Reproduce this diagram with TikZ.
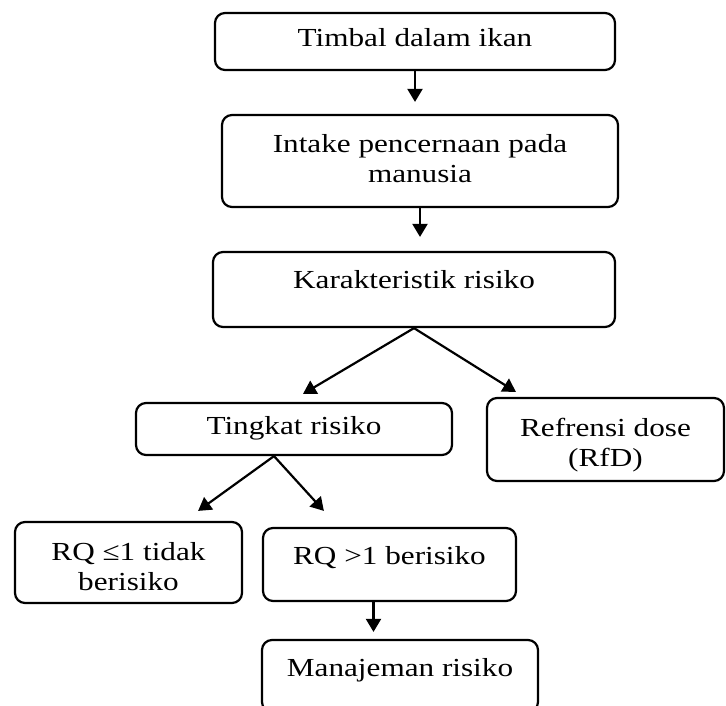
\documentclass[tikz,border=0pt]{standalone}
\usepackage{fontspec}
\setmainfont{Liberation Serif}[FakeStretch=1.2]
\usetikzlibrary{arrows.meta,calc}
\tikzset{
  box/.style={draw,line width=2.2pt,rounded corners=10pt,inner sep=0pt},
  lbl/.style={align=center,inner sep=0pt,font=\fontsize{26}{30}\selectfont},
  arr/.style={line width=2.2pt,-{Triangle[length=13pt,width=15pt]}}
}
\begin{document}
\begin{tikzpicture}[x=1pt,y=-1pt]
  \useasboundingbox (0,0) rectangle (726,705);
  % main chain
  \node[box,minimum width=400pt,minimum height=57pt] (timbal) at (415,41.5) {};
  \node[lbl] (timbalT) at (415,38) {Timbal dalam ikan};
  \node[box,minimum width=396pt,minimum height=92pt] (intake) at (420,161) {};
  \node[lbl] (intakeT) at (420,159) {Intake pencernaan pada\\manusia};
  \node[box,minimum width=402pt,minimum height=75pt] (kar) at (414,289.5) {};
  \node[lbl] (karT) at (414,280) {Karakteristik risiko};
  % second level
  \node[box,minimum width=316pt,minimum height=52pt] (tingkat) at (294,429) {};
  \node[lbl] (tingkatT) at (294,428) {Tingkat risiko};
  \node[box,minimum width=237pt,minimum height=83pt] (rfd) at (605.5,439.5) {};
  \node[lbl] (rfdT) at (605.5,445) {Refrensi dose\\(RfD)};
  % third level
  \node[box,minimum width=227pt,minimum height=81pt] (rqa) at (128.5,562.5) {};
  \node[lbl] (rqaT) at (128.5,567) {RQ ≤1 tidak\\berisiko};
  \node[box,minimum width=253pt,minimum height=73pt] (rqb) at (389.5,564.5) {};
  \node[lbl] (rqbT) at (389.5,558) {RQ >1 berisiko};
  \node[box,minimum width=276pt,minimum height=72pt] (mgmt) at (400,676) {};
  \node[lbl] (mgmtT) at (400,670) {Manajeman risiko};
  % connectors
  \draw[arr,shorten >=12pt] (timbal.south) -- (timbal.south |- intake.north);
  \draw[arr,shorten >=14pt] (intake.south) -- (intake.south |- kar.north);
  \draw[arr] (kar.south) -- ($(tingkat.north)+(9,-8)$);
  \draw[arr] (kar.south) -- ($(rfd.north west)+(30,-5)$);
  \draw[arr] ($(tingkat.south)+(-20,0)$) -- ($(rqa.north east)+(-45,-10)$);
  \draw[arr] ($(tingkat.south)+(-20,0)$) -- ($(rqb.north west)+(62,-16)$);
  \draw[arr] ($(rqb.south)+(-16,0)$) -- ($(rqb.south |- mgmt.north)+(-16,-7)$);
\end{tikzpicture}
\end{document}
